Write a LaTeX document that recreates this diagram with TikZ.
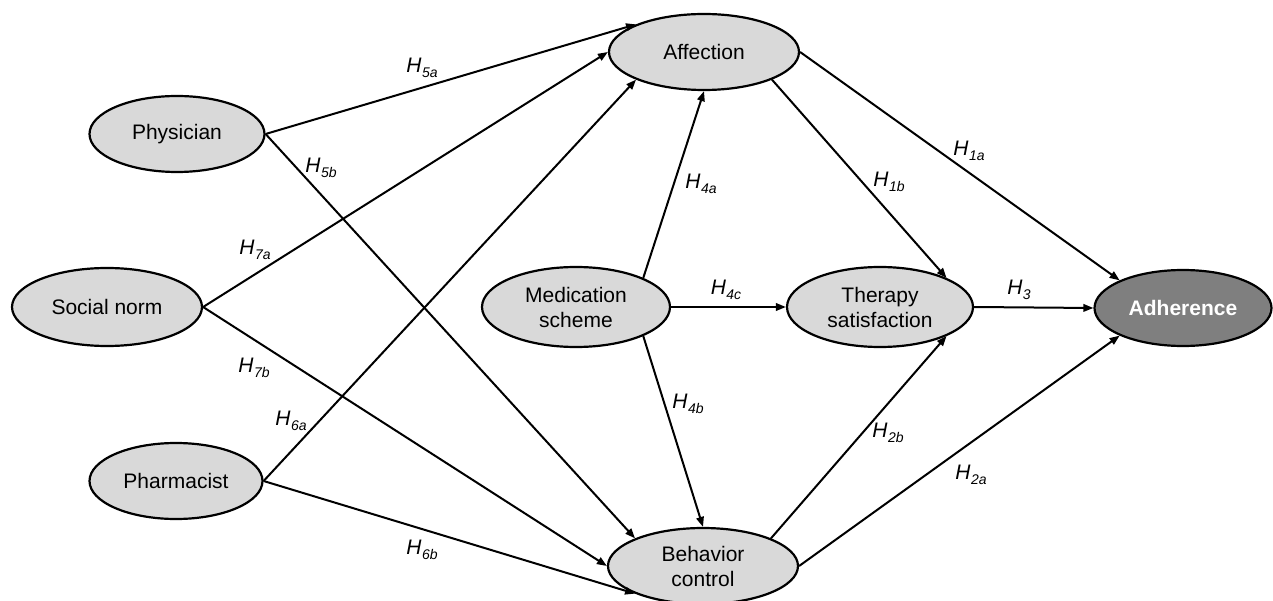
\documentclass[tikz,border=0pt]{standalone}
\usepackage{fontspec}
\setmainfont{Liberation Sans}
\usetikzlibrary{arrows.meta,shapes.geometric}
\definecolor{lightg}{RGB}{217,217,217}
\definecolor{darkg}{RGB}{127,127,127}
\newcommand{\hyp}[1]{{\fontsize{21}{21}\selectfont\itshape H\kern0.5pt\raisebox{-5pt}{\fontsize{14}{14}\selectfont #1}}}
\begin{document}
\begin{tikzpicture}[x=1pt,y=-1pt,
  ell/.style={ellipse, draw, line width=2.2pt, fill=lightg, inner sep=0pt, align=center,
    font=\fontsize{21}{25}\selectfont},
  arr/.style={-{Triangle[length=10pt,width=7.5pt]}, line width=2pt},
  lbl/.style={inner sep=0pt}]
\useasboundingbox (0,0) rectangle (1273,601);
% nodes
\node[ell, minimum width=190pt, minimum height=76pt] (aff) at (704,52) {Affection};
\node[ell, minimum width=175pt, minimum height=76pt] (phy) at (177,134) {Physician};
\node[ell, minimum width=190pt, minimum height=78pt] (soc) at (107,307) {Social norm};
\node[ell, minimum width=173pt, minimum height=76pt] (pha) at (176,481) {Pharmacist};
\node[ell, minimum width=188pt, minimum height=80pt] (med) at (576,307) {Medication\\scheme};
\node[ell, minimum width=186pt, minimum height=80pt] (the) at (880,307) {Therapy\\satisfaction};
\node[ell, minimum width=177pt, minimum height=76pt, fill=darkg, text=white, font=\fontsize{21}{25}\selectfont\bfseries] (adh) at (1183,308) {Adherence};
\node[ell, minimum width=190pt, minimum height=76pt] (beh) at (703,566) {Behavior\\control};
% connectors
\draw[arr] (phy.east) -- (aff.north west);
\draw[arr] (soc.east) -- (aff.west);
\draw[arr] (pha.east) -- (aff.south west);
\draw[arr] (phy.east) -- (beh.north west);
\draw[arr] (soc.east) -- (beh.west);
\draw[arr] (pha.east) -- (beh.south west);
\draw[arr] (med.north east) -- (aff.south);
\draw[arr] (med.south east) -- (beh.north);
\draw[arr] (med.east) -- (the.west);
\draw[arr] (aff.south east) -- (the.north east);
\draw[arr] (beh.north east) -- (the.south east);
\draw[arr] (aff.east) -- (adh.north west);
\draw[arr] (the.east) -- (adh.west);
\draw[arr] (beh.east) -- (adh.south west);
% labels
\node[lbl] (l5a) at (422,68) {\hyp{5a}};
\node[lbl] (l5b) at (321,168) {\hyp{5b}};
\node[lbl] (l4a) at (701,184) {\hyp{4a}};
\node[lbl] (l1b) at (889,182) {\hyp{1b}};
\node[lbl] (l1a) at (969,151) {\hyp{1a}};
\node[lbl] (l4c) at (726,290) {\hyp{4c}};
\node[lbl] (l3) at (1019,290) {\hyp{3}};
\node[lbl] (l7a) at (255,250) {\hyp{7a}};
\node[lbl] (l7b) at (254,368) {\hyp{7b}};
\node[lbl] (l6a) at (291,421) {\hyp{6a}};
\node[lbl] (l4b) at (688,404) {\hyp{4b}};
\node[lbl] (l2b) at (888,433) {\hyp{2b}};
\node[lbl] (l2a) at (971,475) {\hyp{2a}};
\node[lbl] (l6b) at (422,550) {\hyp{6b}};
\end{tikzpicture}
\end{document}
